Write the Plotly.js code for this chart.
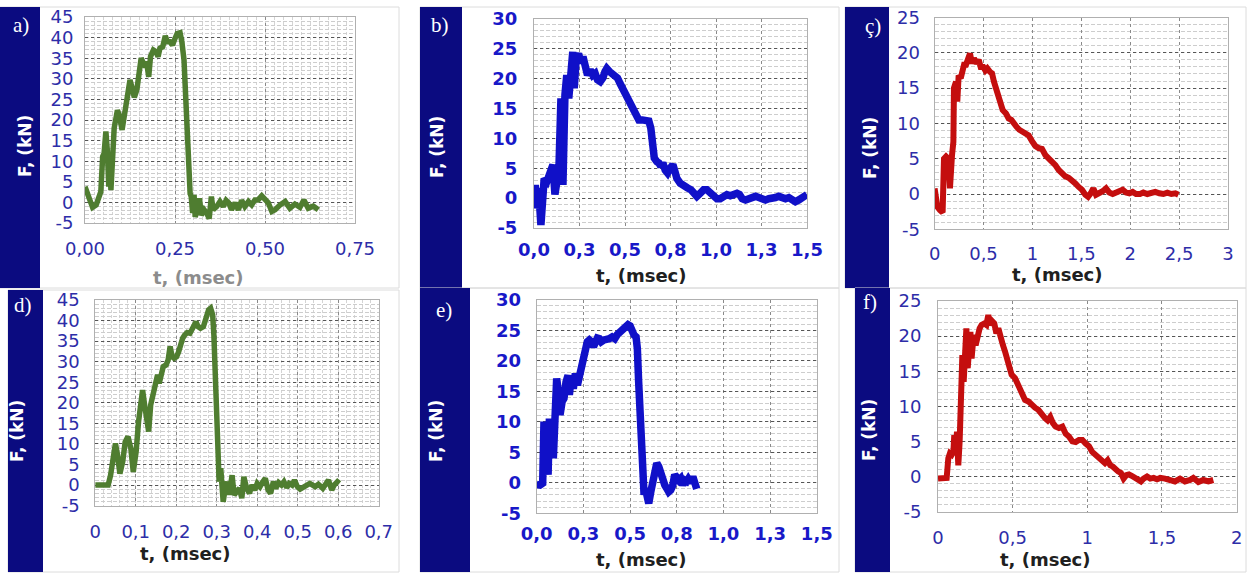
<!DOCTYPE html>
<html><head><meta charset="utf-8">
<script src="https://cdn.plot.ly/plotly-3.0.1.min.js"></script>
<style>html,body{margin:0;padding:0;background:#fff}#chart{width:1247px;height:573px}</style>
</head><body><div id="chart"></div>
<script>
// ---------------- DATA ----------------
const panelLabels = ['a)', 'b)', 'ç)', 'd)', 'e)', 'f)'];
const yTitleText = 'F, (kN)';
const xTitleText = 't, (msec)';

// a)
const tA = [0,0.014,0.021,0.031,0.037,0.044,0.049,0.053,0.058,0.062,0.066,0.069,0.072,0.076,0.081,0.090,0.095,0.103,0.108,0.116,0.125,0.131,0.137,0.144,0.150,0.156,0.162,0.168,0.171,0.177,0.182,0.190,0.197,0.203,0.208,0.216,0.223,0.229,0.236,0.243,0.250,0.256,0.264,0.269,0.275,0.281,0.284,0.288,0.292,0.295,0.299,0.303,0.306,0.312,0.318,0.323,0.331,0.338,0.345,0.351,0.356,0.366,0.375,0.384,0.392,0.399,0.407,0.417,0.426,0.435,0.444,0.454,0.463,0.472,0.481,0.491,0.500,0.509,0.519,0.528,0.542,0.556,0.569,0.583,0.597,0.608,0.620,0.634,0.648];
const fA = [3.8,0.6,-1.2,-0.6,1.4,2.6,11.1,11.9,17.2,12.7,3.8,10.3,3.0,14.3,18.0,22.4,21.2,17.6,20.0,25.3,29.7,27.7,25.5,27.3,31.3,35.0,33.8,32.9,34.2,30.5,35.4,37.0,36.6,35.4,37.4,37.8,40.4,39.0,39.0,38.2,39.8,41.0,41.2,39.0,34.6,22.4,11.9,8.7,2.2,1.4,-2.6,1.8,-3.5,-1.8,1.0,-3.1,-1.8,-2.6,-3.9,1.4,-1.8,-1.0,0.2,-1.0,0.5,-0.1,-1.8,-0.1,-1.8,0.5,-1.0,0.2,-0.6,0.6,0.6,1.6,0.6,-0.1,-2.2,-1.8,-0.6,0.2,-1.4,-0.4,-1.2,0.6,-1.4,-0.9,-1.8];

// b)
const tB = [0,0.007,0.012,0.025,0.038,0.049,0.056,0.071,0.080,0.093,0.104,0.115,0.126,0.137,0.148,0.159,0.170,0.180,0.191,0.203,0.213,0.221,0.232,0.245,0.258,0.269,0.281,0.294,0.309,0.323,0.336,0.349,0.364,0.378,0.390,0.400,0.415,0.430,0.444,0.459,0.473,0.492,0.510,0.528,0.547,0.562,0.576,0.595,0.613,0.631,0.642,0.650,0.661,0.675,0.686,0.697,0.708,0.721,0.734,0.748,0.763,0.774,0.785,0.803,0.822,0.844,0.862,0.877,0.895,0.913,0.932,0.950,0.968,0.986,1.005,1.023,1.041,1.060,1.078,1.100,1.115,1.129,1.144,1.162,1.181,1.199,1.217,1.235,1.254,1.272,1.290,1.309,1.327,1.345,1.363,1.382,1.400,1.418,1.436,1.455,1.473,1.492,1.500];
const fB = [-1.5,2.2,-1.7,1.7,-4.5,-0.6,3.3,2.8,3.6,5.0,5.6,0.6,2.8,5.0,16.7,2.2,17.3,20.6,16.7,22.9,24.5,18.4,23.4,24.2,22.6,23.7,21.7,20.6,21.5,20.6,20.9,19.8,19.5,20.1,21.2,21.7,21.2,20.9,20.6,20.1,19.2,18.1,17.0,15.9,14.8,13.9,13.1,13.1,12.9,12.9,11.7,8.9,6.7,6.1,5.9,5.3,5.9,4.7,4.2,5.0,5.6,4.5,3.3,2.5,2.0,1.7,1.4,0.8,0.3,0.8,1.4,1.4,0.8,0.3,-0.1,-0.1,0.3,0.6,0.4,0.7,0.8,0.6,-0.1,-0.3,0,0.3,0.3,0.1,-0.1,-0.3,-0.1,-0.1,0.1,0.3,0,-0.1,0.1,-0.2,-0.6,-0.3,0.1,0.4,0.6];

// ç)
const tC = [0,0.014,0.028,0.055,0.082,0.096,0.117,0.140,0.157,0.178,0.192,0.198,0.219,0.232,0.246,0.267,0.280,0.301,0.321,0.345,0.362,0.382,0.403,0.430,0.451,0.471,0.498,0.519,0.539,0.566,0.587,0.607,0.635,0.662,0.696,0.730,0.757,0.785,0.812,0.839,0.866,0.894,0.928,0.962,0.996,1.030,1.064,1.098,1.133,1.167,1.201,1.235,1.269,1.303,1.337,1.371,1.405,1.439,1.473,1.507,1.541,1.569,1.596,1.623,1.650,1.684,1.719,1.753,1.787,1.821,1.855,1.889,1.923,1.957,1.991,2.025,2.060,2.100,2.134,2.175,2.216,2.257,2.298,2.339,2.380,2.421,2.462,2.493];
const fC = [0.8,-1.0,-1.8,-2.3,-2.6,5.0,5.3,5.0,0.8,5.5,7.4,15.0,15.9,13.1,16.8,16.4,17.1,18.3,18.3,19.2,19.9,18.5,19.2,18.5,19.0,18.0,18.0,17.5,17.8,17.3,17.1,15.9,14.5,13.1,11.9,11.4,10.7,10.5,9.8,9.5,9.1,8.8,8.4,8.3,7.5,6.8,6.5,6.4,5.5,5.0,4.8,4.1,3.4,2.9,2.5,2.3,2.0,1.5,1.0,0.6,-0.1,-0.4,0.1,0.8,-0.1,0.1,0.4,0.8,0.2,0,0.2,0.3,0.6,0.2,0.1,0.3,0,0,0.2,0,0.1,0.3,0.1,0,0.2,0,0.1,-0.1];

// d)
const tD = [0,0.020,0.032,0.038,0.045,0.050,0.055,0.061,0.068,0.074,0.081,0.088,0.094,0.101,0.107,0.112,0.117,0.122,0.127,0.132,0.137,0.144,0.149,0.154,0.158,0.163,0.168,0.175,0.180,0.185,0.190,0.195,0.201,0.206,0.211,0.216,0.221,0.227,0.234,0.239,0.244,0.249,0.254,0.260,0.267,0.274,0.280,0.285,0.290,0.293,0.297,0.300,0.303,0.306,0.310,0.313,0.316,0.321,0.326,0.331,0.338,0.343,0.349,0.356,0.362,0.367,0.374,0.381,0.387,0.394,0.400,0.407,0.414,0.420,0.427,0.433,0.440,0.446,0.453,0.460,0.466,0.473,0.479,0.486,0.492,0.499,0.506,0.518,0.530,0.543,0.551,0.562,0.570,0.576,0.584,0.590,0.598,0.603];
const fD = [0,0,0,2.4,8.1,10.1,7.3,2.8,5.7,10.5,11.8,8.9,3.2,8.1,15.4,21.1,23.1,19.5,14.6,13.0,19.5,22.7,25.5,26.8,24.7,27.6,28.8,29.2,30.4,33.7,31.2,30.8,31.2,32.4,34.5,35.7,36.5,37.1,36.9,38.1,38.9,39.7,38.5,38.1,38.5,40.6,42.6,43.0,41.4,36.5,26.0,13.8,5.7,0.8,4.1,-0.8,-4.1,-0.8,0.8,-2.4,2.4,-2.4,-1.6,-0.8,-3.2,2.0,-0.8,-2.0,0,-1.2,0.4,-0.4,0.8,1.6,-1.2,-2.0,0.8,-0.8,0.6,0,0.8,-0.6,0.4,0,1.2,-0.4,-1.0,-0.4,0.4,-0.4,0.2,-0.8,0.4,1.2,-1.2,0,0.8,0.4];

// e)
const tE = [0,0.018,0.032,0.039,0.046,0.054,0.061,0.068,0.075,0.082,0.089,0.096,0.107,0.118,0.125,0.136,0.146,0.157,0.168,0.175,0.186,0.196,0.207,0.218,0.229,0.239,0.250,0.261,0.271,0.282,0.293,0.304,0.314,0.325,0.336,0.346,0.361,0.375,0.389,0.404,0.418,0.432,0.446,0.461,0.475,0.489,0.500,0.511,0.521,0.532,0.539,0.546,0.554,0.561,0.568,0.575,0.582,0.589,0.600,0.611,0.621,0.632,0.643,0.654,0.664,0.675,0.686,0.696,0.707,0.718,0.729,0.739,0.750,0.761,0.771,0.782,0.793,0.804,0.812,0.825,0.836,0.846,0.857];
const fE = [-0.3,-0.4,-0.1,10.0,2.3,8.4,1.3,10.5,4.5,10.5,4.0,8.9,17.1,14.4,11.1,13.3,13.8,16.5,17.6,14.4,17.6,15.4,17.9,16.0,17.6,19.0,20.1,21.2,23.1,23.4,23.1,22.3,23.1,23.7,23.6,23.1,23.4,23.4,23.6,23.9,23.6,24.3,24.7,25.3,25.7,25.9,25.7,24.7,24.2,23.9,22.0,16.5,10.5,5.1,0.2,-2.0,-0.9,-2.6,-3.4,-1.5,0.2,2.3,3.2,2.6,1.3,0.7,-0.4,-0.9,-1.5,-1.2,-0.4,1.3,1.0,0.4,0.7,-0.4,0.4,0.2,0.6,0.0,1.0,-0.7,-1.0];

// f)
const tF = [0,0.036,0.058,0.069,0.080,0.092,0.103,0.109,0.118,0.127,0.136,0.145,0.154,0.163,0.172,0.181,0.190,0.199,0.208,0.217,0.225,0.239,0.252,0.266,0.279,0.292,0.310,0.324,0.337,0.350,0.364,0.377,0.391,0.404,0.417,0.435,0.449,0.467,0.480,0.493,0.516,0.533,0.551,0.565,0.583,0.605,0.627,0.650,0.672,0.694,0.717,0.734,0.752,0.770,0.788,0.810,0.833,0.855,0.877,0.900,0.922,0.944,0.967,0.989,1.011,1.033,1.056,1.078,1.100,1.118,1.136,1.154,1.172,1.190,1.208,1.225,1.243,1.261,1.279,1.297,1.319,1.342,1.359,1.377,1.400,1.422,1.444,1.467,1.489,1.520,1.554,1.587,1.621,1.654,1.688,1.710,1.744,1.777,1.811,1.844];
const fF = [-0.3,-0.3,-0.2,2.6,3.3,3.1,3.5,5.9,3.1,6.4,1.6,5.0,9.7,17.3,13.5,17.3,21.1,15.4,17.8,20.6,16.8,20.2,18.7,20.2,21.1,21.6,21.8,21.6,23.0,21.6,22.1,21.8,20.4,21.1,19.7,18.7,17.8,16.4,15.2,14.5,14.0,13.3,12.6,11.6,10.9,10.7,10.2,9.8,9.5,8.8,8.3,8.0,8.5,7.6,7.1,6.9,7.1,6.1,5.7,5.0,4.9,5.2,5.2,4.7,4.3,3.5,3.1,2.6,2.1,1.9,2.3,1.6,1.4,0.9,0.7,0.5,-0.3,0.2,0.3,0.1,-0.2,-0.5,-0.7,-0.3,0,-0.3,-0.2,-0.4,-0.2,-0.3,-0.5,-0.7,-0.3,-0.7,-0.5,-0.2,-0.8,-0.5,-0.7,-0.5];

// tick values / labels
const xValsA = [0, 0.25, 0.5, 0.75];
const xTextA = ['0,00', '0,25', '0,50', '0,75'];
const xValsB = [0, 0.25, 0.5, 0.75, 1, 1.25, 1.5];
const xTextB = ['0,0', '0,3', '0,5', '0,8', '1,0', '1,3', '1,5'];
const xValsC = [0, 0.5, 1, 1.5, 2, 2.5, 3];
const xTextC = ['0', '0,5', '1', '1,5', '2', '2,5', '3'];
const xValsD = [0, 0.1, 0.2, 0.3, 0.4, 0.5, 0.6, 0.7];
const xTextD = ['0', '0,1', '0,2', '0,3', '0,4', '0,5', '0,6', '0,7'];
const xValsF = [0, 0.5, 1, 1.5, 2];
const xTextF = ['0', '0,5', '1', '1,5', '2'];
const yVals45 = [-5, 0, 5, 10, 15, 20, 25, 30, 35, 40, 45];
const yText45 = ['-5', '0', '5', '10', '15', '20', '25', '30', '35', '40', '45'];
const yVals30 = [-5, 0, 5, 10, 15, 20, 25, 30];
const yText30 = ['-5', '0', '5', '10', '15', '20', '25', '30'];
const yVals25 = [-5, 0, 5, 10, 15, 20, 25];
const yText25 = ['-5', '0', '5', '10', '15', '20', '25'];

// ---------------- STYLE / GEOMETRY ----------------
const W = 1247, H = 573;
const px = x => x / W, py = y => 1 - y / H;
const GREEN = '#4f7d30', BLUE = '#1010c8', RED = '#c40e0e', NAVY = '#0b0b80';
const TICK = '#2d2da8', TICKB = '#1818c8';
const FONT = 'DejaVu Sans, Verdana, sans-serif';

const panels = [
  {t: tA, f: fA, color: GREEN, lw: 5.5, plot: [85, 17, 355, 223], xr: [0, 0.75], yr: [-5, 45],
   xv: xValsA, xt: xTextA, yv: yVals45, yt: yText45, bold: false, xstand: 9, ystand: 7, minorX: 0.025,
   strip: [0, 7, 40, 288], box: [0, 7, 399, 288], lab: [21, 25], ytl: [25, 146], xtl: [198, 277], xtc: '#8c8c8c'},
  {t: tB, f: fB, color: BLUE, lw: 7.5, plot: [534, 19, 807, 228], xr: [0, 1.5], yr: [-5, 30],
   xv: xValsB, xt: xTextB, yv: yVals30, yt: yText30, bold: true, xstand: 5, ystand: 12, minorX: 0,
   strip: [420, 7, 462, 288], box: [420, 7, 839, 288], lab: [440, 25], ytl: [437, 147], xtl: [641, 275], xtc: '#202020'},
  {t: tC, f: fC, color: RED, lw: 6, plot: [934.6, 17.5, 1228, 229.3], xr: [0, 3], yr: [-5, 25],
   xv: xValsC, xt: xTextC, yv: yVals25, yt: yText25, bold: false, xstand: 8, ystand: 10, minorX: 0,
   strip: [845, 7, 889, 288], box: [845, 7, 1246, 288], lab: [873, 26], ytl: [870, 148], xtl: [1057, 274], xtc: '#202020'},
  {t: tD, f: fD, color: GREEN, lw: 5.5, plot: [95.2, 300, 378.7, 505.6], xr: [0, 0.7], yr: [-5, 45],
   xv: xValsD, xt: xTextD, yv: yVals45, yt: yText45, bold: false, xstand: 10, ystand: 11, minorX: 0.02,
   strip: [8, 290, 43, 572], box: [8, 290, 399, 572], lab: [23, 305], ytl: [17, 431], xtl: [185, 553], xtc: '#202020'},
  {t: tE, f: fE, color: BLUE, lw: 7.5, plot: [536.7, 299.7, 816.8, 513.2], xr: [0, 1.5], yr: [-5, 30],
   xv: xValsB, xt: xTextB, yv: yVals30, yt: yText30, bold: true, xstand: 4, ystand: 11, minorX: 0,
   strip: [420, 288, 470, 572], box: [420, 288, 839, 572], lab: [444, 310], ytl: [436, 431], xtl: [641, 559], xtc: '#202020'},
  {t: tF, f: fF, color: RED, lw: 6, plot: [938, 301, 1236.6, 511.6], xr: [0, 2], yr: [-5, 25],
   xv: xValsF, xt: xTextF, yv: yVals25, yt: yText25, bold: false, xstand: 10, ystand: 12, minorX: 0,
   strip: [855, 288, 890, 572], box: [855, 288, 1246, 572], lab: [870, 302], ytl: [869, 430], xtl: [1045, 559], xtc: '#202020'}
];

const traces = [];
const layout = {
  width: W, height: H, margin: {l: 0, r: 0, t: 0, b: 0}, showlegend: false,
  paper_bgcolor: '#ffffff', plot_bgcolor: '#ffffff', font: {family: FONT},
  shapes: [], annotations: []
};

panels.forEach((p, i) => {
  const n = i === 0 ? '' : String(i + 1);
  traces.push({x: p.t, y: p.f, type: 'scatter', mode: 'lines', xaxis: 'x' + n, yaxis: 'y' + n,
    line: {color: p.color, width: p.lw, shape: 'linear'}, hoverinfo: 'skip'});
  const tf = {family: FONT, size: 18, color: p.bold ? TICKB : TICK, weight: p.bold ? 'bold' : 'normal'};
  const xa = {domain: [px(p.plot[0]), px(p.plot[2])], anchor: 'y' + n, range: p.xr,
    tickmode: 'array', tickvals: p.xv, ticktext: p.xt, ticks: '', ticklabelstandoff: p.xstand,
    showgrid: true, gridcolor: '#8a8a8a', griddash: 'dot', gridwidth: 1,
    showline: true, mirror: true, linecolor: '#b0b0b0', linewidth: 1, zeroline: false,
    tickfont: tf, fixedrange: true};
  if (p.minorX) xa.minor = {tickmode: 'linear', tick0: 0, dtick: p.minorX, showgrid: true, gridcolor: '#d4d4d4', griddash: '3px,2px', gridwidth: 1, ticks: ''};
  const ya = {domain: [py(p.plot[3]), py(p.plot[1])], anchor: 'x' + n, range: p.yr,
    tickmode: 'array', tickvals: p.yv, ticktext: p.yt, ticks: '', ticklabelstandoff: p.ystand,
    showgrid: true, gridcolor: '#555555', griddash: 'dot', gridwidth: 1,
    showline: true, mirror: true, linecolor: '#b0b0b0', linewidth: 1, zeroline: false,
    tickfont: tf, fixedrange: true,
    minor: {tickmode: 'linear', tick0: 0, dtick: 1, showgrid: true, gridcolor: '#cdcdcd', griddash: '4px,2px', gridwidth: 1, ticks: ''}};
  layout['xaxis' + n] = xa;
  layout['yaxis' + n] = ya;

  layout.shapes.push({type: 'rect', xref: 'paper', yref: 'paper', layer: 'below',
    x0: px(p.box[0]), x1: px(p.box[2]), y0: py(p.box[3]), y1: py(p.box[1]),
    line: {color: '#dcdcdc', width: 1}, fillcolor: 'rgba(0,0,0,0)'});
  layout.shapes.push({type: 'rect', xref: 'paper', yref: 'paper', layer: 'below',
    x0: px(p.strip[0]), x1: px(p.strip[2]), y0: py(p.strip[3]), y1: py(p.strip[1]),
    line: {width: 0}, fillcolor: NAVY});

  layout.annotations.push({text: panelLabels[i], xref: 'paper', yref: 'paper', x: px(p.lab[0]), y: py(p.lab[1]),
    xanchor: 'center', yanchor: 'middle', showarrow: false,
    font: {family: 'Liberation Serif, Times New Roman, serif', size: 21, color: '#ffffff'}});
  layout.annotations.push({text: yTitleText, xref: 'paper', yref: 'paper', x: px(p.ytl[0]), y: py(p.ytl[1]),
    xanchor: 'center', yanchor: 'middle', showarrow: false, textangle: -90,
    font: {family: FONT, size: 17, color: '#ffffff', weight: 'bold'}});
  layout.annotations.push({text: xTitleText, xref: 'paper', yref: 'paper', x: px(p.xtl[0]), y: py(p.xtl[1]),
    xanchor: 'center', yanchor: 'middle', showarrow: false,
    font: {family: FONT, size: 18, color: p.xtc, weight: 'bold'}});
});

Plotly.newPlot('chart', traces, layout, {staticPlot: true, displayModeBar: false});
</script>
</body></html>
